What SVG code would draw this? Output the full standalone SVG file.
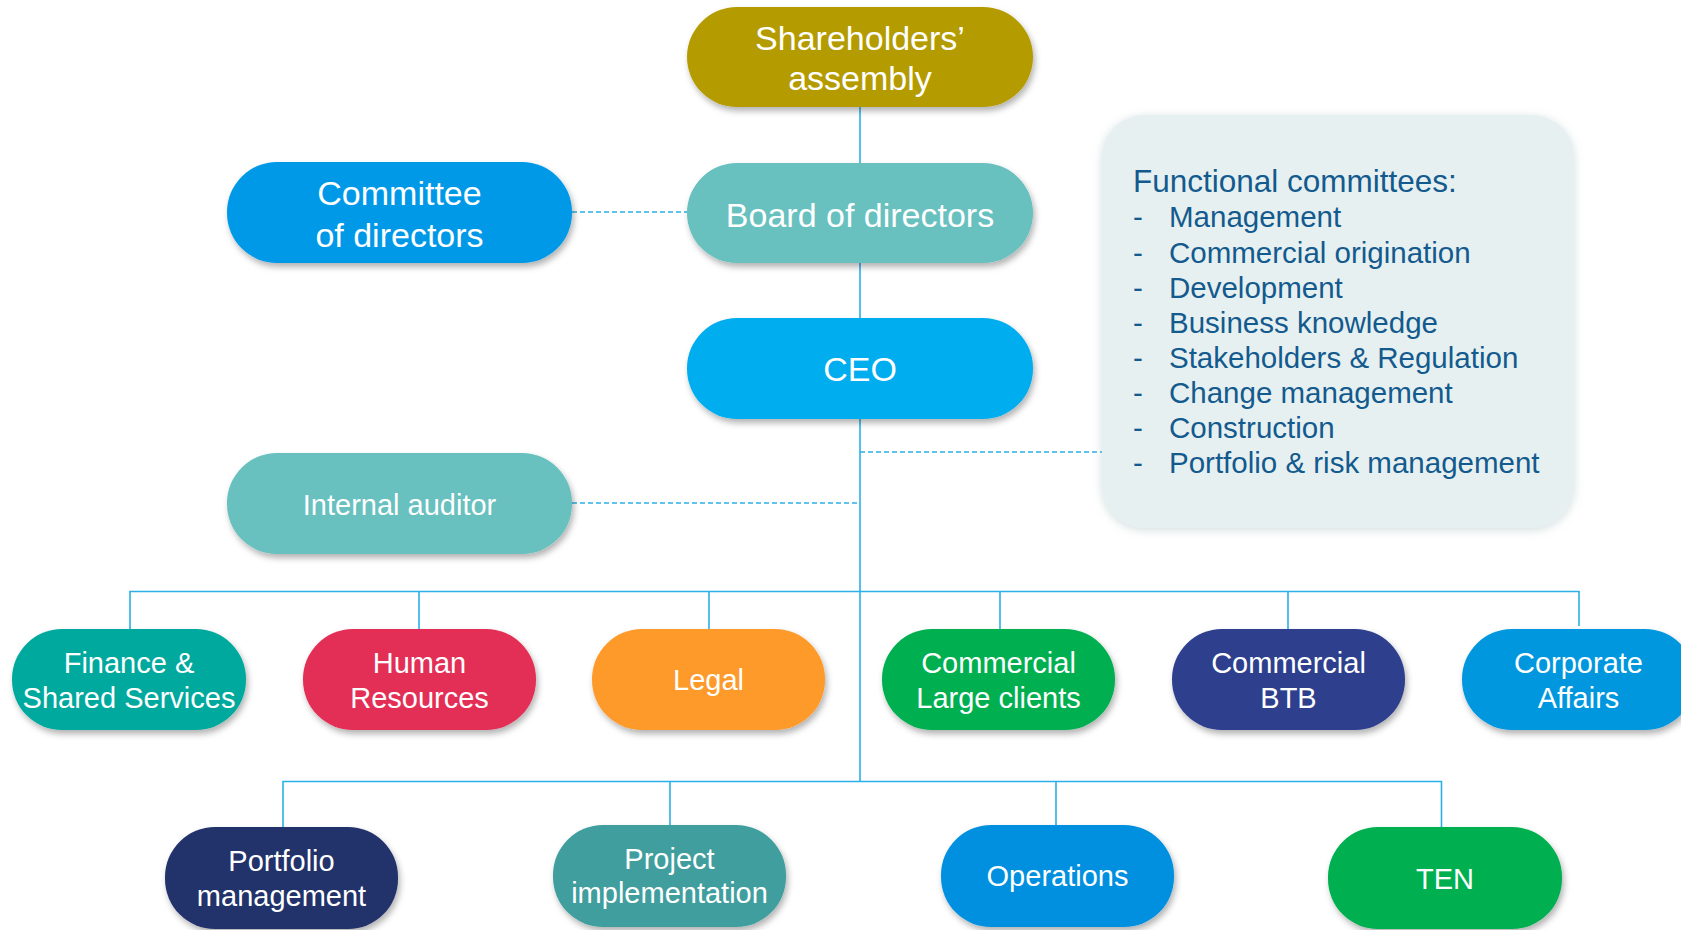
<svg xmlns="http://www.w3.org/2000/svg" width="1681" height="930" viewBox="0 0 1681 930">
<defs>
<filter id="sh" x="-10%" y="-20%" width="125%" height="150%">
<feDropShadow dx="2" dy="4" stdDeviation="3" flood-color="#000" flood-opacity="0.3"/>
</filter>
<filter id="glow" x="-10%" y="-10%" width="120%" height="120%">
<feDropShadow dx="0" dy="2" stdDeviation="5" flood-color="#7fa0a0" flood-opacity="0.35"/>
</filter>
<style>
.t{font-family:"Liberation Sans",Arial,sans-serif;fill:#fff;text-anchor:middle}
.big{font-size:34px}
.mid{font-size:29px}
.fc{font-family:"Liberation Sans",Arial,sans-serif;fill:#135a8e}
.ln{stroke:#2bb0e8;stroke-width:1.6;fill:none}
.dl{stroke:#2bb0e8;stroke-width:1.4;fill:none;stroke-dasharray:5 3}
</style>
</defs>
<rect width="1681" height="930" fill="#fff"/>

<g id="connectors">
<line class="ln" x1="860" y1="107" x2="860" y2="163"/>
<line class="ln" x1="860" y1="263" x2="860" y2="318"/>
<line class="ln" x1="860" y1="419" x2="860" y2="782"/>
<line class="dl" x1="572" y1="212" x2="687" y2="212"/>
<line class="dl" x1="572" y1="503" x2="860" y2="503"/>
<line class="dl" x1="860" y1="452" x2="1102" y2="452"/>
<polyline class="ln" points="130,629 130,591.5 1579,591.5 1579,626"/>
<line class="ln" x1="419" y1="591.5" x2="419" y2="629"/>
<line class="ln" x1="709" y1="591.5" x2="709" y2="629"/>
<line class="ln" x1="1000" y1="591.5" x2="1000" y2="629"/>
<line class="ln" x1="1288" y1="591.5" x2="1288" y2="629"/>
<polyline class="ln" points="283,827 283,781.5 1441.5,781.5 1441.5,827"/>
<line class="ln" x1="670" y1="781.5" x2="670" y2="825"/>
<line class="ln" x1="1056" y1="781.5" x2="1056" y2="825"/>
</g>

<g id="shareholders">
<rect x="687" y="7" width="346" height="100" rx="50" fill="#b49b00" filter="url(#sh)"/>
<text class="t big" x="860" y="50">Shareholders’</text>
<text class="t big" x="860" y="90">assembly</text>
</g>
<g id="board">
<rect x="687" y="163" width="346" height="100" rx="50" fill="#67c0bf" filter="url(#sh)"/>
<text class="t big" x="860" y="227">Board of directors</text>
</g>
<g id="ceo">
<rect x="687" y="318" width="346" height="101" rx="50" fill="#00adef" filter="url(#sh)"/>
<text class="t big" x="860" y="381">CEO</text>
</g>
<g id="committee">
<rect x="227" y="162" width="345" height="101" rx="50" fill="#0599e8" filter="url(#sh)"/>
<text class="t big" x="399.5" y="205">Committee</text>
<text class="t big" x="399.5" y="247">of directors</text>
</g>
<g id="auditor">
<rect x="227" y="453" width="345" height="101" rx="50" fill="#67c0bf" filter="url(#sh)"/>
<text class="t mid" x="399.5" y="515">Internal auditor</text>
</g>
<g id="functional">
<rect x="1102" y="115" width="472" height="413" rx="42" fill="#e7f0f0" filter="url(#glow)"/>
<text class="fc" x="1133" y="192" font-size="31.5">Functional committees:</text>
<g font-size="29.5">
<text class="fc" x="1133" y="227">-</text><text class="fc" x="1169" y="227">Management</text>
<text class="fc" x="1133" y="262.5">-</text><text class="fc" x="1169" y="262.5">Commercial origination</text>
<text class="fc" x="1133" y="298">-</text><text class="fc" x="1169" y="298">Development</text>
<text class="fc" x="1133" y="333">-</text><text class="fc" x="1169" y="333">Business knowledge</text>
<text class="fc" x="1133" y="368">-</text><text class="fc" x="1169" y="368">Stakeholders &amp; Regulation</text>
<text class="fc" x="1133" y="403">-</text><text class="fc" x="1169" y="403">Change management</text>
<text class="fc" x="1133" y="438">-</text><text class="fc" x="1169" y="438">Construction</text>
<text class="fc" x="1133" y="473">-</text><text class="fc" x="1169" y="473">Portfolio &amp; risk management</text>
</g>
</g>

<g id="finance">
<rect x="12" y="629" width="234" height="101" rx="50" fill="#00a99d" filter="url(#sh)"/>
<text class="t mid" x="129" y="673">Finance &amp;</text>
<text class="t mid" x="129" y="708">Shared Services</text>
</g>
<g id="hr">
<rect x="303" y="629" width="233" height="101" rx="50" fill="#e32d55" filter="url(#sh)"/>
<text class="t mid" x="419.5" y="673">Human</text>
<text class="t mid" x="419.5" y="708">Resources</text>
</g>
<g id="legal">
<rect x="592" y="629" width="233" height="101" rx="50" fill="#fd9a2a" filter="url(#sh)"/>
<text class="t mid" x="708.5" y="690">Legal</text>
</g>
<g id="commercial-large">
<rect x="882" y="629" width="233" height="101" rx="50" fill="#00af50" filter="url(#sh)"/>
<text class="t mid" x="998.5" y="673">Commercial</text>
<text class="t mid" x="998.5" y="708">Large clients</text>
</g>
<g id="commercial-btb">
<rect x="1172" y="629" width="233" height="101" rx="50" fill="#2e3f8d" filter="url(#sh)"/>
<text class="t mid" x="1288.5" y="673">Commercial</text>
<text class="t mid" x="1288.5" y="708">BTB</text>
</g>
<g id="corporate">
<rect x="1462" y="629" width="233" height="101" rx="50" fill="#0097df" filter="url(#sh)"/>
<text class="t mid" x="1578.5" y="673">Corporate</text>
<text class="t mid" x="1578.5" y="708">Affairs</text>
</g>

<g id="portfolio">
<rect x="165" y="827" width="233" height="102" rx="50" fill="#23306a" filter="url(#sh)"/>
<text class="t mid" x="281.5" y="871">Portfolio</text>
<text class="t mid" x="281.5" y="906">management</text>
</g>
<g id="project">
<rect x="553" y="825" width="233" height="102" rx="50" fill="#3f9e9e" filter="url(#sh)"/>
<text class="t mid" x="669.5" y="869">Project</text>
<text class="t mid" x="669.5" y="903">implementation</text>
</g>
<g id="operations">
<rect x="941" y="825" width="233" height="102" rx="50" fill="#0090df" filter="url(#sh)"/>
<text class="t mid" x="1057.5" y="886">Operations</text>
</g>
<g id="ten">
<rect x="1328" y="827" width="234" height="102" rx="50" fill="#00af50" filter="url(#sh)"/>
<text class="t mid" x="1445" y="889">TEN</text>
</g>
</svg>
